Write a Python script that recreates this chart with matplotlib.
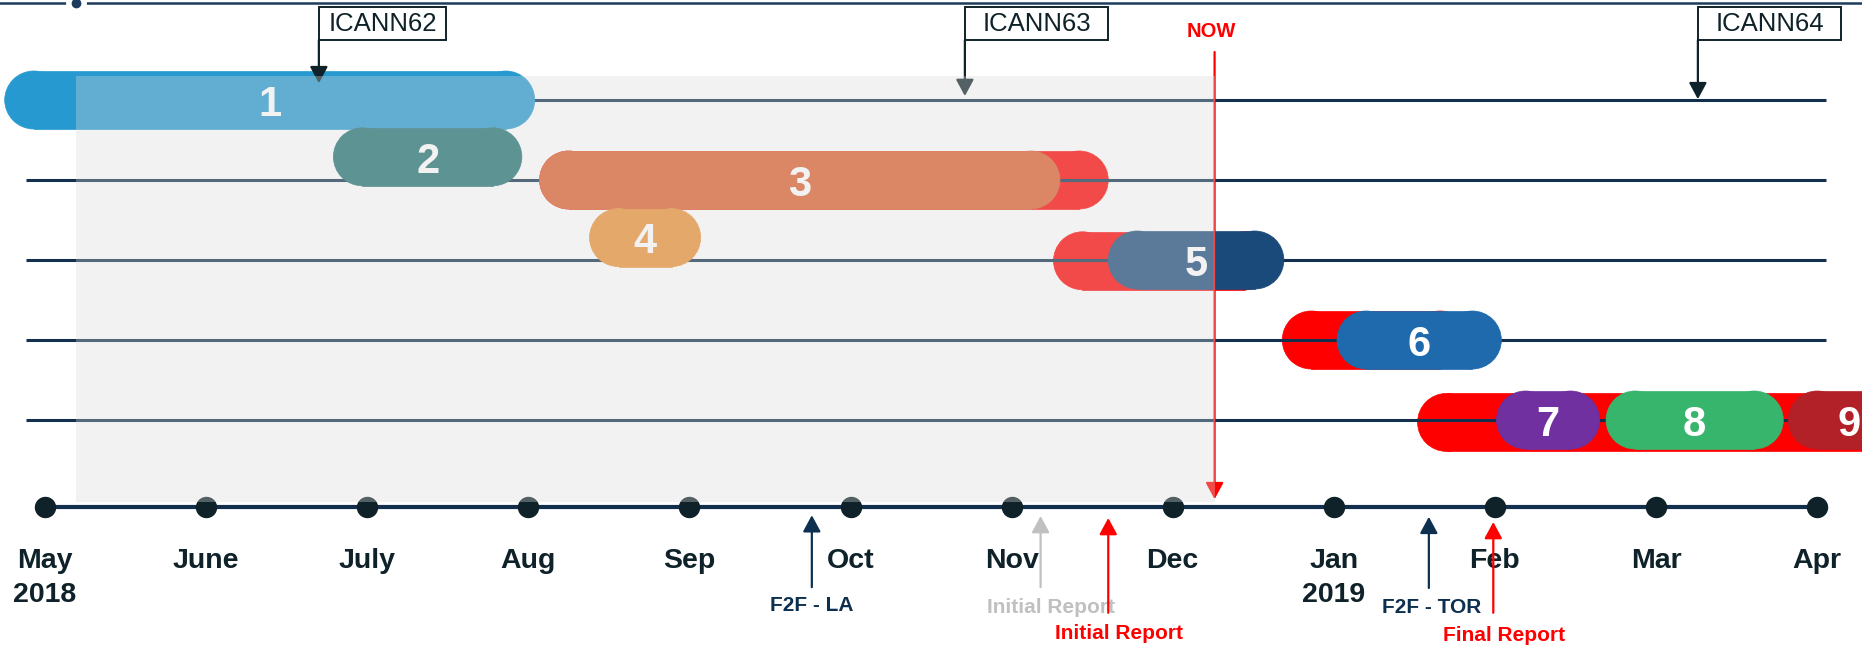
import matplotlib
matplotlib.use('Agg')
import matplotlib.pyplot as plt
from matplotlib.patches import Ellipse, Rectangle

plt.rcParams['font.family'] = ['Liberation Sans', 'DejaVu Sans']

# x axis: months since 1 May 2018
months = ['May\n2018', 'June', 'July', 'Aug', 'Sep', 'Oct', 'Nov', 'Dec',
          'Jan\n2019', 'Feb', 'Mar', 'Apr']

# work items (lane 0 = top row)
bar_labels = ['1', '2', '3', '4', '5', '6', '7', '8', '9']
bar_start = [-0.25, 1.79, 3.07, 3.38, 6.60, 8.02, 9.01, 9.69, 10.82]
bar_end = [3.04, 2.96, 6.30, 4.07, 7.69, 9.04, 9.65, 10.79, 11.58]
bar_lane = [0, 0.71, 1, 1.72, 2, 3, 4, 4, 4]
bar_colors = ['#2699d0', '#1f6f70', '#dd5d2b', '#e99032', '#1a4a7a',
              '#1e6aac', '#7030a0', '#37b56c', '#b22028']

# slipped schedule (red)
delay_start = [3.07, 6.26, 7.68, 8.52]
delay_end = [6.60, 7.63, 8.84, 11.60]
delay_lane = [1, 2.01, 3.0, 4.03]

lanes = [0, 1, 2, 3, 4]

# ICANN meetings above the rows
meet_names = ['ICANN62', 'ICANN63', 'ICANN64']
meet_x = [1.70, 5.71, 10.26]
meet_tip = [-0.21, -0.05, -0.01]

# milestones under the time axis
ms_labels = ['F2F - LA', 'Initial Report', 'Initial Report', 'F2F - TOR', 'Final Report']
ms_x = [4.76, 6.18, 6.60, 8.59, 8.99]
ms_text_x = [4.76, 6.245, 6.667, 8.61, 9.057]
ms_from = [6.09, 6.09, 6.41, 6.10, 6.41]
ms_tip = [5.19, 5.20, 5.225, 5.21, 5.275]
ms_text_y = [6.325, 6.34, 6.675, 6.35, 6.70]
ms_colors = ['#0d3050', '#c0c0c0', '#ff0000', '#0d3050', '#ff0000']

now_x = 7.26
shade_start = 0.19
axis_y = 5.0875

W, H = 1862, 650
px_x, px_y = 161.1, 80.0
fig = plt.figure(figsize=(W / 100, H / 100), dpi=100)
ax = fig.add_axes([0, 0, 1, 1])
x0 = -45 / px_x
y0 = -100 / px_y
ax.set_xlim(x0, x0 + W / px_x)
ax.set_ylim(y0 + H / px_y, y0)
ax.axis('off')

bar_h = 0.725
rx = bar_h / 2 * px_y / px_x   # cap radius in month units


def pill(xa, xb, lane, color, z):
    kw = dict(fc=color, ec=color, lw=0.5, zorder=z)
    ax.add_patch(Ellipse((xa + rx, lane), 2 * rx, bar_h, **kw))
    ax.add_patch(Ellipse((xb - rx, lane), 2 * rx, bar_h, **kw))
    ax.add_patch(Rectangle((xa + rx, lane - bar_h / 2), xb - xa - 2 * rx, bar_h, **kw))


def arrow(x, ya, yb, color, z=3):
    ax.annotate('', xy=(x, yb), xytext=(x, ya),
                arrowprops=dict(arrowstyle='-|>,head_length=0.5,head_width=0.27',
                                color=color, lw=1.6, shrinkA=0, shrinkB=0,
                                mutation_scale=20), zorder=z)


# top slider line
ax.axhline(-1.2125, color='#1c3b5e', lw=1.8, zorder=1)
ax.plot([shade_start], [-1.2125], 'o', ms=14, color='white', zorder=2)
ax.plot([shade_start], [-1.2125], 'o', ms=6, color='#1c3b5e', zorder=3)

for s, e, l in zip(delay_start, delay_end, delay_lane):
    pill(s, e, l, '#ff0000', 1)

ax.hlines(lanes, -0.118, 11.055, color='#12304e', lw=2.2, zorder=2)

for lab, s, e, l, c in zip(bar_labels, bar_start, bar_end, bar_lane, bar_colors):
    pill(s, e, l, c, 3)
    ax.text((s + e) / 2, l + 0.06, lab, ha='center', va='center', color='white',
            fontsize=30, fontweight='bold', zorder=4)

# time axis
ax.plot([0, 11], [axis_y, axis_y], color='#12304d', lw=3, zorder=4)
ax.plot(range(len(months)), [axis_y] * len(months), 'o', ms=14.4,
        color='#0f2229', zorder=5)
for i, m in enumerate(months):
    ax.text(i, 5.60, m, ha='center', va='top', fontsize=20.5, fontweight='bold',
            color='#0f2229', linespacing=1.4)

# ICANN meetings
box_w = [0.79, 0.89, 0.89]
for name, x, tip, bw in zip(meet_names, meet_x, meet_tip, box_w):
    arrow(x, -0.75, tip, '#0f2229')
    ax.add_patch(Rectangle((x, -1.1625), bw, 0.4125, fc='white', ec='#0f2229',
                           lw=1.4, zorder=6))
    ax.text(x + bw / 2, -0.95, name, ha='center', va='center', fontsize=18.5,
            color='#0f2229', zorder=7)

# NOW marker
arrow(now_x, -0.6, 4.99, '#ff0000', z=5)
ax.text(now_x - 0.02, -0.85, 'NOW', ha='center', va='center', color='#ff0000',
        fontsize=14.5, fontweight='bold')

# milestones
for lab, x, tx, ya, yb, ty, c in zip(ms_labels, ms_x, ms_text_x, ms_from, ms_tip,
                                      ms_text_y, ms_colors):
    ax.text(tx, ty, lab, ha='center', va='center', fontsize=15,
            fontweight='bold', color=c, zorder=2)
    arrow(x, ya, yb, c, z=3)

# elapsed-time shading
ax.add_patch(Rectangle((shade_start, -0.3), now_x - shade_start, 5.325,
                       fc='#d9d9d9', ec='none', alpha=0.34, zorder=10))

fig.savefig('out.png', dpi=100)
